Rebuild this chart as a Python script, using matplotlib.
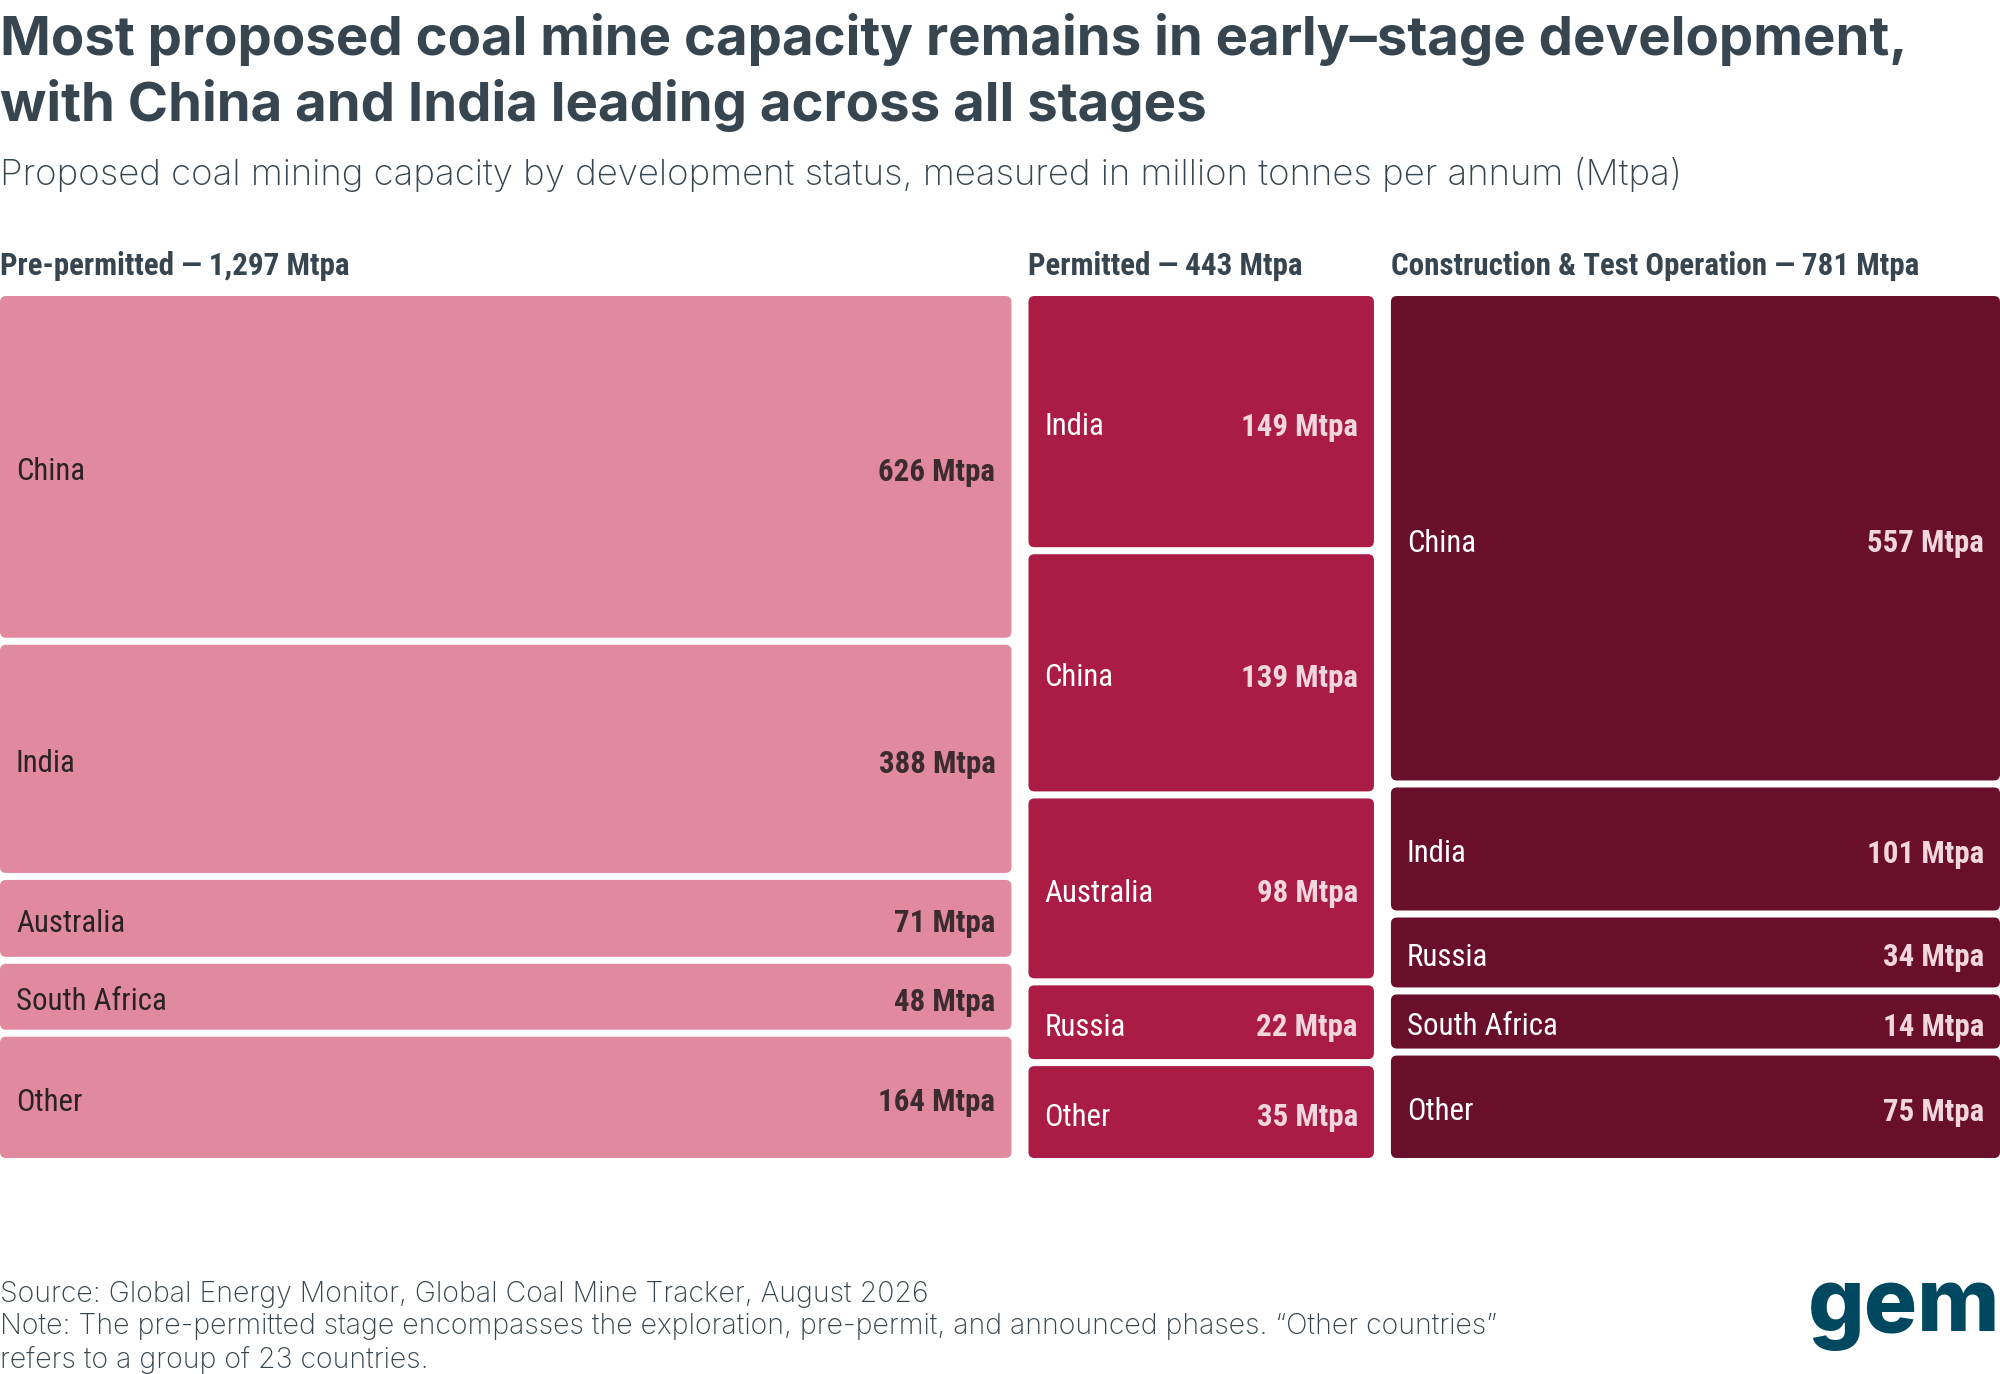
import matplotlib
matplotlib.use('Agg')
import matplotlib.pyplot as plt
from matplotlib.patches import FancyBboxPatch
from matplotlib import font_manager as fm

# data (Mtpa)
stages = ['Pre-permitted', 'Permitted', 'Construction & Test Operation']
pre_countries = ['China', 'India', 'Australia', 'South Africa', 'Other']
pre_values = [626, 388, 71, 48, 164]
perm_countries = ['India', 'China', 'Australia', 'Russia', 'Other']
perm_values = [149, 139, 98, 22, 35]
cons_countries = ['China', 'India', 'Russia', 'South Africa', 'Other']
cons_values = [557, 101, 34, 14, 75]

stage_totals = ['1,297', '443', '781']
fill_colors = ['#E0899F', '#AA1C46', '#6A0F2B']
name_colors = ['#2A2226', '#FFFFFF', '#FFFFFF']
value_colors = ['#3B2A30', '#F2D6DE', '#F2D6DE']

names = {f.name for f in fm.fontManager.ttflist}
def pick(cands):
    for c in cands:
        if c in names:
            return c
    return 'DejaVu Sans'

cond = pick(['Roboto Condensed', 'Liberation Sans Narrow', 'DejaVu Sans'])
head = pick(['Inter', 'Lato', 'DejaVu Sans'])
TEXT = '#36454F'

W, H = 2000, 1374
fig = plt.figure(figsize=(W / 100, H / 100), dpi=100)
ax = fig.add_axes([0, 0, 1, 1])
ax.set_xlim(0, W)
ax.set_ylim(H, 0)
ax.axis('off')

# title + subtitle
ax.text(0, 40, 'Most proposed coal mine capacity remains in early\u2013stage development,',
        family=head, weight='bold', fontsize=39.3, color=TEXT, va='center', ha='left')
ax.text(0, 106, 'with China and India leading across all stages',
        family=head, weight='bold', fontsize=39.3, color=TEXT, va='center', ha='left')
ax.text(0, 174, 'Proposed coal mining capacity by development status, measured in million tonnes per annum (Mtpa)',
        family=head, weight='light', fontsize=26.4, color=TEXT, va='center', ha='left')

# treemap-like layout: columns by stage total, stacked rows
top, bottom = 296, 1158
col_gap, row_gap, pad = 17, 7, 43
columns = [(pre_countries, pre_values), (perm_countries, perm_values),
           (cons_countries, cons_values)]
grand = sum(sum(v) for _, v in columns)
usable_w = W - col_gap * (len(columns) - 1)

x0 = 0
for i, (countries, values) in enumerate(columns):
    cw = usable_w * sum(values) / grand
    ax.text(x0, 266, f'{stages[i]} \u2014 {stage_totals[i]} Mtpa', family=cond,
            weight='bold', fontsize=22.3, color=TEXT, va='center', ha='left')
    n = len(values)
    k = (bottom - top - n * pad - (n - 1) * row_gap) / sum(values)
    y0 = top
    for c, v in zip(countries, values):
        h = pad + k * v
        ax.add_patch(FancyBboxPatch((x0, y0), cw, h,
                                    boxstyle='round,pad=0,rounding_size=6',
                                    fc=fill_colors[i], ec='none'))
        ax.text(x0 + 16, y0 + h / 2 + 5, c, family=cond, fontsize=22.2,
                color=name_colors[i], va='center', ha='left')
        ax.text(x0 + cw - 16, y0 + h / 2 + 5, f'{v} Mtpa', family=cond, weight='bold',
                fontsize=22.2, color=value_colors[i], va='center', ha='right')
        y0 += h + row_gap
    x0 += cw + col_gap

# footer
foot = [
    'Source: Global Energy Monitor, Global Coal Mine Tracker, August 2026',
    'Note: The pre-permitted stage encompasses the exploration, pre-permit, and announced phases. \u201cOther countries\u201d',
    'refers to a group of 23 countries.',
]
for j, line in enumerate(foot):
    ax.text(0, 1294 + j * 33, line, family=head, weight='light', fontsize=20.5,
            color=TEXT, va='center', ha='left')

ax.text(2000, 1310, 'gem', family=head, weight='heavy', fontsize=64,
        color='#00485F', va='center', ha='right')

fig.savefig('out.png', dpi=100)
